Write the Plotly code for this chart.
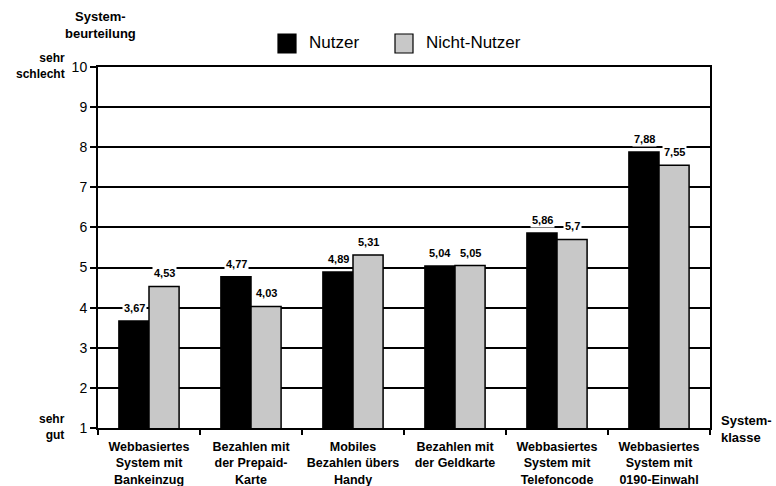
import plotly.graph_objects as go

categories = [
    "Webbasiertes<br>System mit<br>Bankeinzug",
    "Bezahlen mit<br>der Prepaid-<br>Karte",
    "Mobiles<br>Bezahlen übers<br>Handy",
    "Bezahlen mit<br>der Geldkarte",
    "Webbasiertes<br>System mit<br>Telefoncode",
    "Webbasiertes<br>System mit<br>0190-Einwahl",
]
nutzer = [3.67, 4.77, 4.89, 5.04, 5.86, 7.88]
nicht_nutzer = [4.53, 4.03, 5.31, 5.05, 5.70, 7.55]
nutzer_labels = ["3,67", "4,77", "4,89", "5,04", "5,86", "7,88"]
nicht_nutzer_labels = ["4,53", "4,03", "5,31", "5,05", "5,7", "7,55"]
y_ticks = [1, 2, 3, 4, 5, 6, 7, 8, 9, 10]
series_names = ["Nutzer", "Nicht-Nutzer"]
series_colors = ["black", "#c8c8c8"]

FONT = "Arial, Liberation Sans, Helvetica, sans-serif"

# plot area in pixels
L, R, T, B = 98, 66, 67, 58
W, H = 776, 486
PW, PH = W - L - R, H - T - B


def px(x, y):
    """pixel position -> paper coordinates"""
    return (x - L) / PW, (H - B - y) / PH


fig = go.Figure()
for name, vals, col in zip(series_names, [nutzer, nicht_nutzer], series_colors):
    fig.add_trace(go.Bar(
        x=categories, y=vals, name=name, showlegend=False,
        marker=dict(color=col, line=dict(color="black", width=1.5)),
    ))

annotations = []
shapes = []

# value labels above each bar, on a white patch that hides the grid
for vals, labels, shift in [(nutzer, nutzer_labels, -15), (nicht_nutzer, nicht_nutzer_labels, 15)]:
    for cat, v, t in zip(categories, vals, labels):
        annotations.append(dict(
            x=cat, y=v, text=f"<b>{t}</b>", xref="x", yref="y",
            xshift=shift, yanchor="bottom", yshift=5, showarrow=False,
            bgcolor="white", borderpad=1,
            font=dict(family=FONT, size=11, color="black")))

# legend drawn as square swatches with captions
legend_items = [(278, "Nutzer"), (395, "Nicht-Nutzer")]
for (x0, name), col in zip(legend_items, series_colors):
    a0, b0 = px(x0, 53)
    a1, b1 = px(x0 + 18, 34)
    shapes.append(dict(type="rect", xref="paper", yref="paper", x0=a0, x1=a1, y0=b0, y1=b1,
                       fillcolor=col, line=dict(color="black", width=1.2)))
    tx, ty = px(x0 + 29, 43)
    annotations.append(dict(x=tx, y=ty, xref="paper", yref="paper", text=name,
                            xanchor="left", yanchor="middle", showarrow=False,
                            font=dict(family=FONT, size=17, color="black")))

# axis captions
captions = [
    (100, 25, "<b>System-<br>beurteilung</b>", "center", "center", 13),
    (67, 66, "<b>sehr<br>schlecht</b>", "right", "right", 12),
    (67, 427, "<b>sehr<br>gut</b>", "right", "right", 12),
    (719, 429, "<b>System-<br>klasse</b>", "left", "left", 13),
]
for x, y, text, xa, al, size in captions:
    ax, ay = px(x, y)
    annotations.append(dict(x=ax, y=ay, xref="paper", yref="paper", text=text,
                            xanchor=xa, yanchor="middle", align=al, showarrow=False,
                            font=dict(family=FONT, size=size, color="black")))

fig.update_layout(
    width=W, height=H,
    margin=dict(l=L, r=R, t=T, b=B),
    paper_bgcolor="white", plot_bgcolor="white",
    barmode="group", bargap=0.41, bargroupgap=0,
    font=dict(family=FONT, color="black"),
    showlegend=False,
    annotations=annotations,
    shapes=shapes,
    xaxis=dict(
        showline=True, linecolor="black", linewidth=2, mirror=True,
        ticks="outside", tickson="boundaries", ticklen=5, tickwidth=2, tickcolor="black",
        tickfont=dict(family=FONT, size=12.5, color="black"),
        tickangle=0, automargin=False,
        ticklabelstandoff=6,
        showgrid=False,
        tickvals=categories,
        ticktext=[f"<b>{c}</b>" for c in categories],
    ),
    yaxis=dict(
        range=[1, 10], tickvals=y_ticks, automargin=False,
        showline=True, linecolor="black", linewidth=2, mirror=True,
        showgrid=True, gridcolor="black", gridwidth=2,
        ticks="outside", ticklen=6, tickwidth=2, tickcolor="black",
        tickfont=dict(family=FONT, size=14, color="black"),
        zeroline=False,
    ),
)

fig.write_html("out.html")
